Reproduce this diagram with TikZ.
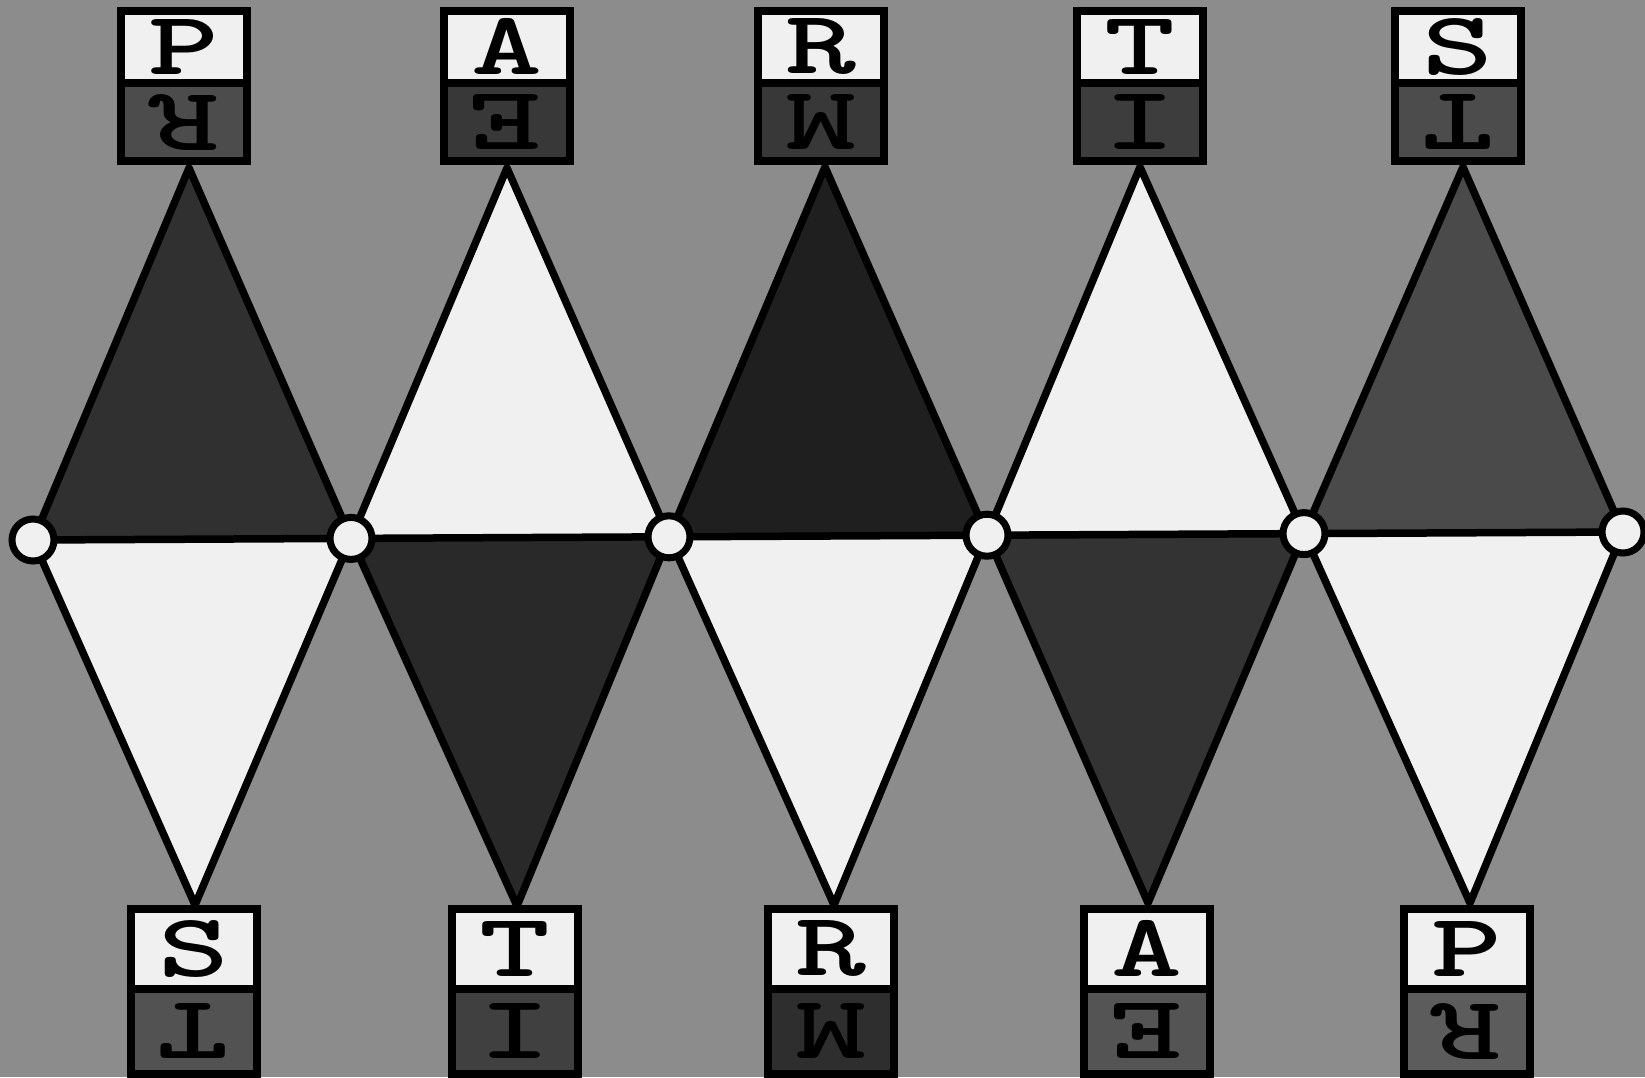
\documentclass[tikz,border=0pt]{standalone}
\usepackage{graphicx}
\definecolor{bg}{gray}{0.55}
\definecolor{paper}{gray}{0.94}
\definecolor{dA}{gray}{0.19}
\definecolor{dB}{gray}{0.16}
\definecolor{dC}{gray}{0.12}
\definecolor{dD}{gray}{0.20}
\definecolor{dE}{gray}{0.29}
\newcommand\lettfont{\fontsize{90}{90}\selectfont\ttfamily\bfseries}
\newcommand\stretchlet[1]{\scalebox{1.5}[1]{#1}}
\begin{document}
\begin{tikzpicture}[x=1pt,y=-1pt,
  edge/.style={line width=7.5pt,line join=round,draw=black},
  junction/.style={circle,fill=paper,draw=black,line width=7pt,minimum size=42pt,inner sep=0pt},
  upbox/.style={rectangle,draw=black,line width=8pt,fill=paper,inner sep=0pt,font=\lettfont,text=black,minimum width=126pt},
  lowbox/.style={rectangle,draw=black,line width=8pt,inner sep=0pt,font=\lettfont,text=black,minimum width=126pt,rotate=180}]
\fill[bg] (0,0) rectangle (1645,1077);
\useasboundingbox (0,0) rectangle (1645,1077);
% junction points
\coordinate (c0) at (33,540);
\coordinate (c1) at (351,538.4);
\coordinate (c2) at (669,536.8);
\coordinate (c3) at (987,535.2);
\coordinate (c4) at (1304,533.6);
\coordinate (c5) at (1623,532);
% apexes
\coordinate (t1) at (189,168);
\coordinate (t2) at (507,168);
\coordinate (t3) at (825,167);
\coordinate (t4) at (1140,167);
\coordinate (t5) at (1463,167);
\coordinate (b1) at (195,905);
\coordinate (b2) at (517,906);
\coordinate (b3) at (834,905);
\coordinate (b4) at (1148,903);
\coordinate (b5) at (1470,903);
% triangle fills
\fill[dA] (c0) -- (t1) -- (c1) -- cycle;
\fill[paper] (c0) -- (b1) -- (c1) -- cycle;
\fill[paper] (c1) -- (t2) -- (c2) -- cycle;
\fill[dB] (c1) -- (b2) -- (c2) -- cycle;
\fill[dC] (c2) -- (t3) -- (c3) -- cycle;
\fill[paper] (c2) -- (b3) -- (c3) -- cycle;
\fill[paper] (c3) -- (t4) -- (c4) -- cycle;
\fill[dD] (c3) -- (b4) -- (c4) -- cycle;
\fill[dE] (c4) -- (t5) -- (c5) -- cycle;
\fill[paper] (c4) -- (b5) -- (c5) -- cycle;
% outlines
\draw[edge] (c0) -- (t1) -- (c1) -- (t2) -- (c2) -- (t3) -- (c3) -- (t4) -- (c4) -- (t5) -- (c5);
\draw[edge] (c0) -- (b1) -- (c1) -- (b2) -- (c2) -- (b3) -- (c3) -- (b4) -- (c4) -- (b5) -- (c5);
\draw[edge] (c0) -- (c5);
% junction circles
\foreach \i in {0,...,5} { \node[junction] (j\i) at (c\i) {}; }
% top boxes
\node[upbox,minimum height=72.5pt] (tu1) at (184,46.75) {\stretchlet{P}};
\node[lowbox,minimum height=78pt,fill=black!70] (tl1) at (184,122) {\stretchlet{R}};
\node[upbox,minimum height=72.5pt] (tu2) at (506.5,46.75) {\stretchlet{A}};
\node[lowbox,minimum height=78pt,fill=black!78] (tl2) at (506.5,122) {\stretchlet{E}};
\node[upbox,minimum height=72.5pt] (tu3) at (821,46.75) {\stretchlet{R}};
\node[lowbox,minimum height=78pt,fill=black!78] (tl3) at (821,122) {\stretchlet{M}};
\node[upbox,minimum height=72.5pt] (tu4) at (1140,46.75) {\stretchlet{T}};
\node[lowbox,minimum height=78pt,fill=black!76] (tl4) at (1140,122) {\stretchlet{I}};
\node[upbox,minimum height=72.5pt] (tu5) at (1458,46.75) {\stretchlet{S}};
\node[lowbox,minimum height=78pt,fill=black!70] (tl5) at (1458,122) {\stretchlet{T}};
% bottom boxes
\node[upbox,minimum height=80.5pt] (bu1) at (193.5,948.75) {\stretchlet{S}};
\node[lowbox,minimum height=84.5pt,fill=black!68] (bl1) at (193.5,1031.25) {\stretchlet{T}};
\node[upbox,minimum height=80.5pt] (bu2) at (515,948.75) {\stretchlet{T}};
\node[lowbox,minimum height=84.5pt,fill=black!75] (bl2) at (515,1031.25) {\stretchlet{I}};
\node[upbox,minimum height=80.5pt] (bu3) at (831,948.75) {\stretchlet{R}};
\node[lowbox,minimum height=84.5pt,fill=black!82] (bl3) at (831,1031.25) {\stretchlet{M}};
\node[upbox,minimum height=80.5pt] (bu4) at (1147,948.75) {\stretchlet{A}};
\node[lowbox,minimum height=84.5pt,fill=black!67] (bl4) at (1147,1031.25) {\stretchlet{E}};
\node[upbox,minimum height=80.5pt] (bu5) at (1466.5,948.75) {\stretchlet{P}};
\node[lowbox,minimum height=84.5pt,fill=black!64] (bl5) at (1466.5,1031.25) {\stretchlet{R}};
\end{tikzpicture}
\end{document}
